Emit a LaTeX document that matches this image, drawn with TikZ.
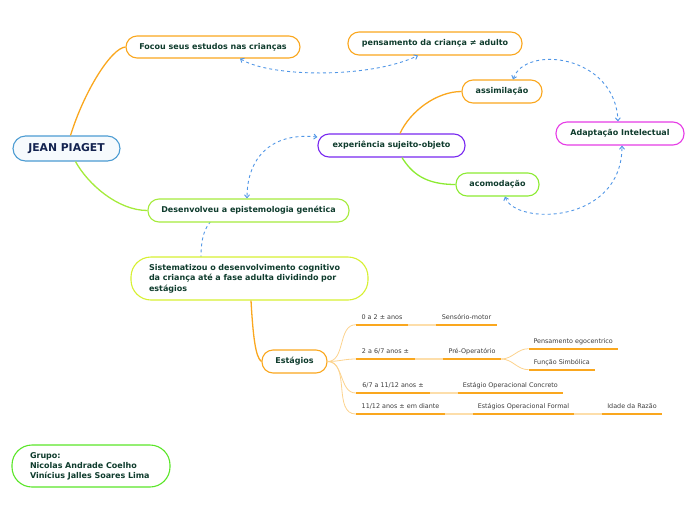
\documentclass[tikz,border=0pt]{standalone}
\usepackage{fontspec}
\setmainfont{DejaVu Sans}
\usetikzlibrary{arrows.meta,calc}
\hyphenpenalty=10000
\exhyphenpenalty=10000
\definecolor{orng}{RGB}{250,167,30}
\definecolor{paleorng}{RGB}{253,222,170}
\definecolor{jpblue}{RGB}{75,155,210}
\definecolor{jpfill}{RGB}{246,250,253}
\definecolor{purp}{RGB}{120,40,240}
\definecolor{magn}{RGB}{230,60,230}
\definecolor{grnA}{RGB}{140,235,50}
\definecolor{grnB}{RGB}{165,235,60}
\definecolor{ygrn}{RGB}{215,240,50}
\definecolor{grnC}{RGB}{90,230,40}
\definecolor{dblue}{RGB}{80,150,230}
\definecolor{txtgrn}{RGB}{15,60,45}
\definecolor{navy}{RGB}{20,35,80}
\definecolor{stgtxt}{RGB}{60,60,60}
\begin{document}
\begin{tikzpicture}[x=1pt,y={(0pt,-1pt)},
  box/.style={draw, rounded corners=11pt, fill=white, line width=1.1pt,
    font=\bfseries\fontsize{8}{9.5}\selectfont, text=txtgrn, inner sep=0pt, align=center},
  stg/.style={inner xsep=0pt, inner ysep=3.5pt, text height=5pt, text depth=1.5pt,
    font=\fontsize{6.4}{7.5}\selectfont, text=stgtxt, anchor=south},
  uline/.style={draw=orng, line width=1.6pt},
  pline/.style={draw=paleorng, line width=1.6pt},
  bline/.style={draw=paleorng!80!orng, line width=0.8pt},
  mainline/.style={line width=1.3pt},
  dash2/.style={draw=dblue, dashed, line width=0.9pt, dash pattern=on 3pt off 3pt},
  both/.style={{Straight Barb[length=3pt,width=5pt]}-{Straight Barb[length=3pt,width=5pt]}}
]
\useasboundingbox (0,0) rectangle (696,520);

% hidden dashed link behind boxes
\draw[dash2] (220,214) .. controls +(-15,8) and +(0,-20) .. (201,257);

% main boxes
\node[box, draw=jpblue, fill=jpfill, text=navy, rounded corners=12.5pt,
  font=\bfseries\fontsize{10.8}{12}\selectfont, minimum width=107pt, minimum height=25pt] (jp) at (66.5,148.5) {JEAN PIAGET};
\node[box, draw=orng, minimum width=174pt, minimum height=22pt] (focou) at (213,47) {Focou seus estudos nas crianças};
\node[box, draw=orng, minimum width=174pt, minimum height=23pt] (pens) at (435,43.5) {pensamento da criança ≠ adulto};
\node[box, draw=orng, minimum width=80pt, minimum height=23pt] (assim) at (502,91.5) {assimilação};
\node[box, draw=magn, minimum width=128pt, minimum height=23pt] (adapt) at (620,133.5) {Adaptação Intelectual};
\node[box, draw=purp, minimum width=147pt, minimum height=23pt] (exp) at (391.5,145.5) {experiência sujeito-objeto};
\node[box, draw=grnA, minimum width=83pt, minimum height=23pt] (acom) at (497.5,184.5) {acomodação};
\node[box, draw=grnB, minimum width=201pt, minimum height=23pt] (desen) at (248.5,210.5) {Desenvolveu a epistemologia genética};
\node[box, draw=ygrn, rounded corners=20pt, align=left, inner xsep=18pt, text width=201pt,
  minimum height=43pt, font=\bfseries\fontsize{8}{10.5}\selectfont] (sist) at (249.5,278.5)
  {Sistematizou o desenvolvimento cognitivo da criança até a fase adulta dividindo por estágios};
\node[box, draw=orng, minimum width=65pt, minimum height=23pt] (est) at (294.5,361.5) {Estágios};
\node[box, draw=grnC, rounded corners=20pt, align=left, inner xsep=18pt, text width=122pt,
  minimum height=42pt, font=\bfseries\fontsize{8}{10}\selectfont] (grupo) at (91,466)
  {Grupo:\\Nicolas Andrade Coelho\\Vinícius Jalles Soares Lima};

% main connectors
\draw[mainline, orng] ([xshift=4pt]jp.north) .. controls +(14,-45) and +(-14,1) .. (focou.west);
\draw[mainline, grnB] ([xshift=9pt]jp.south) .. controls +(12,22) and +(-30,0) .. (desen.west);
\draw[mainline, orng] ([xshift=8.5pt]exp.north) .. controls +(10,-22) and +(-25,0) .. (assim.west);
\draw[mainline, grnA] ([xshift=10.5pt]exp.south) .. controls +(10,16) and +(-30,0) .. (acom.west);
\draw[mainline, orng] ([xshift=1.5pt]sist.south) .. controls +(2,35) and +(-6,-4) .. (est.west);

% dashed relations
\draw[dash2, both] ([xshift=27pt]focou.south) .. controls +(30,19) and +(-48,23) .. ([xshift=-17pt]pens.south);
\draw[dash2, both] ([xshift=11pt]assim.north) .. controls +(12,-35) and +(-3,-67) .. ([xshift=-2pt]adapt.north);
\draw[dash2, both] ([xshift=7.5pt]acom.south) .. controls +(10,29) and +(0,79) .. ([xshift=2pt]adapt.south);
\draw[dash2, both] ([yshift=8.5pt]exp.west) .. controls +(-48,-5) and +(0,-39) .. ([xshift=-1.5pt]desen.north);

% stage labels
\node[stg, minimum width=52pt] (n1a) at (382,324.7) {0 a 2 ± anos};
\node[stg, minimum width=61pt] (n1b) at (466.5,324.7) {Sensório-motor};
\node[stg, minimum width=59pt] (n2a) at (385.5,359) {2 a 6/7 anos ±};
\node[stg, minimum width=58pt] (n2b) at (472,359) {Pré-Operatório};
\node[stg, minimum width=89pt] (n2c) at (573.2,348.7) {Pensamento egocentrico};
\node[stg, minimum width=66.3pt] (n2d) at (561.85,369.7) {Função Simbólica};
\node[stg, minimum width=74pt] (n3a) at (393,393) {6/7 a 11/12 anos ±};
\node[stg, minimum width=104.7pt] (n3b) at (510.35,393) {Estágio Operacional Concreto};
\node[stg, minimum width=89pt] (n4a) at (400.5,414) {11/12 anos ± em diante};
\node[stg, minimum width=101pt] (n4b) at (523.5,414) {Estágios Operacional Formal};
\node[stg, minimum width=60pt] (n4c) at (632,414) {Idade da Razão};

% branches from Estágios
\foreach \n in {n1a,n2a,n3a,n4a}
  \draw[bline] (est.east) to[out=0,in=180] (\n.south west);
\foreach \n in {n2c,n2d}
  \draw[bline] (n2b.south east) to[out=0,in=180] (\n.south west);
\draw[pline] (n1a.south east) -- (n1b.south west);
\draw[pline] (n2a.south east) -- (n2b.south west);
\draw[pline] (n3a.south east) -- (n3b.south west);
\draw[pline] (n4a.south east) -- (n4b.south west);
\draw[pline] (n4b.south east) -- (n4c.south west);
\foreach \n in {n1a,n1b,n2a,n2b,n2c,n2d,n3a,n3b,n4a,n4b,n4c}
  \draw[uline] (\n.south west) -- (\n.south east);
\end{tikzpicture}
\end{document}
